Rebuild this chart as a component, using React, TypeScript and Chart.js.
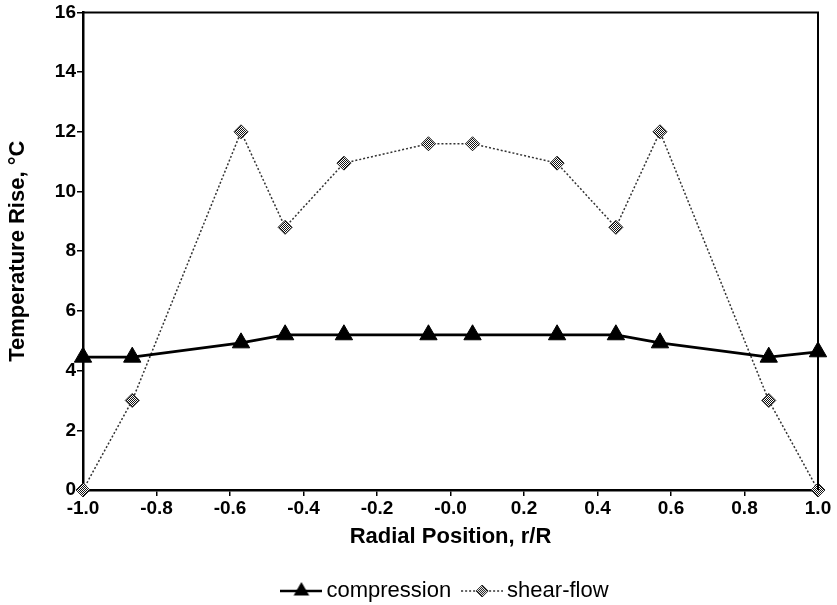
import React, { useEffect, useRef } from 'react';
import { Chart, registerables } from 'chart.js';

Chart.register(...registerables);

// ---- data ----
const radialPositions = [-1.0, -0.866, -0.57, -0.45, -0.29, -0.06, 0.06, 0.29, 0.45, 0.57, 0.866, 1.0];
const compressionValues = [4.45, 4.45, 4.93, 5.2, 5.2, 5.2, 5.2, 5.2, 5.2, 4.93, 4.45, 4.63];
const shearFlowValues = [0, 3.0, 12.0, 8.8, 10.95, 11.6, 11.6, 10.95, 8.8, 12.0, 3.0, 0];
const seriesNames = ['compression', 'shear-flow'];
const xTickValues = [-1.0, -0.8, -0.6, -0.4, -0.2, 0, 0.2, 0.4, 0.6, 0.8, 1.0];
const xTickLabels = ['-1.0', '-0.8', '-0.6', '-0.4', '-0.2', '-0.0', '0.2', '0.4', '0.6', '0.8', '1.0'];
const yTickValues = [0, 2, 4, 6, 8, 10, 12, 14, 16];
const xTitle = 'Radial Position, r/R';
const yTitle = 'Temperature Rise, \u00B0C';

const FAMILY = '"Liberation Sans", Arial, Helvetica, sans-serif';
const TICK_FONT = { family: FAMILY, size: 19, weight: 'bold' as const };
const TITLE_FONT = { family: FAMILY, size: 22, weight: 'bold' as const };
const LEGEND_FONT = { family: FAMILY, size: 22 };

function makeHatch(ctx: CanvasRenderingContext2D): CanvasPattern | string {
  const c = document.createElement('canvas');
  c.width = 2;
  c.height = 2;
  const g = c.getContext('2d')!;
  g.fillStyle = '#ffffff';
  g.fillRect(0, 0, 2, 2);
  g.fillStyle = '#111111';
  g.fillRect(0, 0, 1, 1);
  g.fillRect(1, 1, 1, 1);
  return ctx.createPattern(c, 'repeat') || '#777';
}

function legendImage(kind: string, fill: CanvasPattern | string): HTMLCanvasElement {
  const c = document.createElement('canvas');
  c.width = 42;
  c.height = 20;
  const g = c.getContext('2d')!;
  const cy = 10;
  g.beginPath();
  g.moveTo(0, cy);
  g.lineTo(42, cy);
  if (kind === 'compression') {
    g.strokeStyle = '#000';
    g.lineWidth = 2.5;
    g.stroke();
    const r = 9;
    g.beginPath();
    g.moveTo(21, cy - r);
    g.lineTo(21 + r * Math.sin(Math.PI / 3), cy + r / 2);
    g.lineTo(21 - r * Math.sin(Math.PI / 3), cy + r / 2);
    g.closePath();
    g.fillStyle = '#000';
    g.fill();
  } else {
    g.setLineDash([2, 2]);
    g.strokeStyle = '#333';
    g.lineWidth = 1.5;
    g.stroke();
    g.setLineDash([]);
    const r = 6;
    g.beginPath();
    g.moveTo(21 - r, cy);
    g.lineTo(21, cy - r);
    g.lineTo(21 + r, cy);
    g.lineTo(21, cy + r);
    g.closePath();
    g.fillStyle = fill as any;
    g.fill();
    g.strokeStyle = '#222';
    g.lineWidth = 1;
    g.stroke();
  }
  return c;
}

const framePlugin = {
  id: 'frame',
  afterLayout(chart: any) {
    const lg = chart.legend;
    if (lg) {
      lg.left += 39;
      lg.right += 39;
    }
  },
  afterDatasetsDraw(chart: any) {
    const { ctx, chartArea } = chart;
    ctx.save();
    ctx.strokeStyle = '#000';
    ctx.lineWidth = 2;
    ctx.beginPath();
    ctx.moveTo(chartArea.left, chartArea.top);
    ctx.lineTo(chartArea.right, chartArea.top);
    ctx.lineTo(chartArea.right, chartArea.bottom);
    ctx.stroke();
    ctx.restore();
  },
};

export default function App() {
  const canvasRef = useRef<HTMLCanvasElement | null>(null);

  useEffect(() => {
    const canvas = canvasRef.current;
    if (!canvas) return;
    const ctx = canvas.getContext('2d')!;
    const hatch = makeHatch(ctx);
    const legendImgs = [legendImage('compression', hatch), legendImage('shear', hatch)];

    const chart = new Chart(canvas, {
      type: 'line',
      data: {
        datasets: [
          {
            label: seriesNames[0],
            data: radialPositions.map((x, i) => ({ x, y: compressionValues[i] })),
            borderColor: '#000',
            borderWidth: 2.8,
            pointStyle: 'triangle',
            pointRadius: 10,
            pointBackgroundColor: '#000',
            pointBorderColor: '#000',
            pointBorderWidth: 1,
            tension: 0,
            clip: false as any,
          },
          {
            label: seriesNames[1],
            data: radialPositions.map((x, i) => ({ x, y: shearFlowValues[i] })),
            borderColor: '#333',
            borderWidth: 1.5,
            borderDash: [2, 2],
            pointStyle: 'rectRot',
            pointRadius: 7,
            pointBackgroundColor: hatch as any,
            pointBorderColor: '#222',
            pointBorderWidth: 1,
            tension: 0,
            clip: false as any,
          },
        ],
      },
      options: {
        responsive: false,
        animation: false,
        devicePixelRatio: 1,
        layout: { padding: { left: 0, top: 12, right: 19, bottom: 0 } },
        plugins: {
          tooltip: { enabled: false },
          legend: {
            position: 'bottom',
            maxHeight: 42,
            labels: {
              usePointStyle: true,
              pointStyleWidth: 28,
              padding: 17,
              color: '#000',
              font: LEGEND_FONT,
              generateLabels: (ch: any) =>
                Chart.defaults.plugins.legend.labels.generateLabels(ch).map((item: any, i: number) => ({
                  ...item,
                  pointStyle: legendImgs[i],
                })),
            },
          },
        },
        scales: {
          x: {
            type: 'linear',
            min: -1,
            max: 1,
            afterBuildTicks: (scale: any) => {
              scale.ticks = xTickValues.map((v) => ({ value: v }));
            },
            afterFit: (scale: any) => {
              scale.height = 73;
            },
            ticks: {
              color: '#000',
              font: TICK_FONT,
              padding: 1,
              maxRotation: 0,
              autoSkip: false,
              callback: (_v: any, i: number) => xTickLabels[i],
            },
            grid: {
              drawOnChartArea: false,
              drawTicks: true,
              tickLength: 6,
              color: '#000',
              lineWidth: 1.5,
            },
            border: { display: true, color: '#000', width: 2.5 },
            title: {
              display: true,
              text: xTitle,
              color: '#000',
              font: TITLE_FONT,
              padding: { top: 0, bottom: 13 },
            },
          },
          y: {
            type: 'linear',
            min: 0,
            max: 16,
            afterBuildTicks: (scale: any) => {
              scale.ticks = yTickValues.map((v) => ({ value: v }));
            },
            afterFit: (scale: any) => {
              scale.width = 83;
            },
            ticks: {
              color: '#000',
              font: TICK_FONT,
              padding: 1,
              autoSkip: false,
              callback: (v: any) => String(v),
            },
            grid: {
              drawOnChartArea: false,
              drawTicks: true,
              tickLength: 6,
              color: '#000',
              lineWidth: 1.5,
            },
            border: { display: true, color: '#000', width: 2.5 },
            title: {
              display: true,
              text: yTitle,
              color: '#000',
              font: TITLE_FONT,
              padding: { top: 5, bottom: 0 },
            },
          },
        },
      },
      plugins: [framePlugin],
    });

    return () => chart.destroy();
  }, []);

  return (
    <div style={{ position: 'absolute', left: 0, top: 0, width: 837, height: 605, background: '#fff' }}>
      <canvas ref={canvasRef} width={837} height={605} />
    </div>
  );
}
